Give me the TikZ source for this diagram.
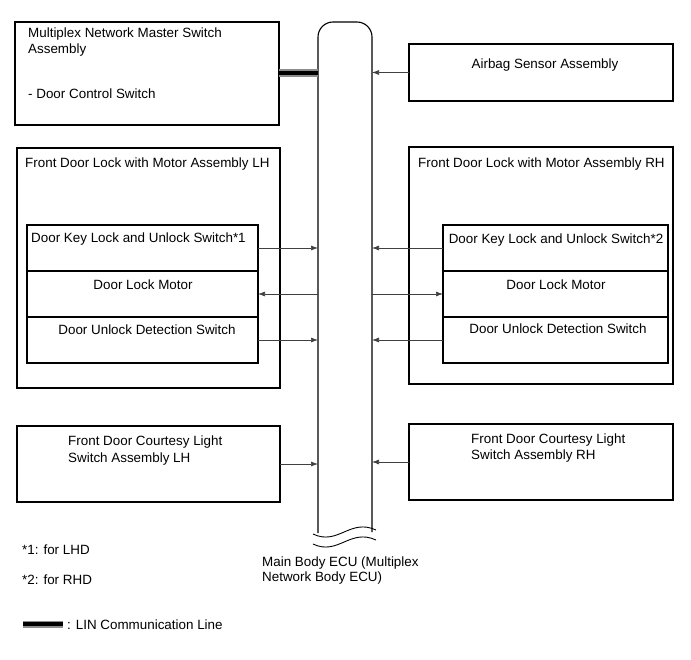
\documentclass[tikz,border=0pt]{standalone}
\usepackage{fontspec}
\setmainfont{Liberation Sans}
\usetikzlibrary{arrows.meta}

\begin{document}
\begin{tikzpicture}[x=1pt, y=-1pt,
	box/.style={rectangle, draw, line width=1.1pt, inner sep=0pt, outer sep=0pt},
	txt/.style={inner sep=0pt, anchor=base west, font=\fontsize{13.4}{17}\selectfont},
	ctxt/.style={txt, anchor=base},
	sig/.style={draw=black!75, line width=0.7pt, -{Latex[length=7pt, width=5pt]}},
	linout/.style={line width=8pt, black!45},
	linin/.style={line width=4pt, black}]
	
	\useasboundingbox (0,0) rectangle (691,660);
	
	%Main body ECU
	\node (ecu) at (345,277.5) [inner sep=0pt, outer sep=0pt, minimum width=54pt, minimum height=511pt]{};
	\draw[line width=1.1pt, rounded corners=15pt] (318,533) -- (318,22) -- (372,22) -- (372,532);
	\draw[line width=0.9pt] (313,534) .. controls (338,546) and (350,518) .. (376,530);
	\draw[line width=0.9pt] (313,544) .. controls (338,556) and (350,528) .. (376,540);
	\node (ecuName) at (262,566) [txt]{Main Body ECU (Multiplex};
	\node (ecuName2) at (262,581) [txt]{Network Body ECU)};
	
	%Master switch
	\node (master) at (147,73.5) [box, minimum width=264pt, minimum height=103pt]{};
	\node (masterName) at (28,38) [txt]{Multiplex Network Master Switch};
	\node (masterName2) at (28,54) [txt]{Assembly};
	\node (masterSub) at (28,99) [txt]{- Door Control Switch};
	\draw[linout] (master.east) -- (master.east -| ecu.west);
	\draw[linin] (master.east) -- (master.east -| ecu.west);
	
	%Airbag
	\node (airbag) at (541,72.5) [box, minimum width=264pt, minimum height=57pt]{};
	\node (airbagName) at (545,69) [ctxt]{Airbag Sensor Assembly};
	\draw[sig] (airbag.west) -- (airbag.west -| ecu.east);
	
	%Front door lock LH
	\node (lockL) at (148.5,268) [box, minimum width=263pt, minimum height=240pt]{};
	\node (lockLName) at (25,168) [txt]{Front Door Lock with Motor Assembly LH};
	\node (keyL) at (142.5,248) [box, minimum width=231pt, minimum height=46pt]{};
	\node (motorL) at (142.5,294) [box, minimum width=231pt, minimum height=46pt]{};
	\node (detL) at (142.5,340) [box, minimum width=231pt, minimum height=46pt]{};
	\node (keyLName) at (31,243) [txt]{Door Key Lock and Unlock Switch*1};
	\node (motorLName) at (143,290) [ctxt]{Door Lock Motor};
	\node (detLName) at (147,335) [ctxt]{Door Unlock Detection Switch};
	\draw[sig] (keyL.east) -- (keyL.east -| ecu.west);
	\draw[sig] (motorL.east -| ecu.west) -- (motorL.east);
	\draw[sig] (detL.east) -- (detL.east -| ecu.west);
	
	%Front door lock RH
	\node (lockR) at (541,265.5) [box, minimum width=264pt, minimum height=237pt]{};
	\node (lockRName) at (418,168) [txt]{Front Door Lock with Motor Assembly RH};
	\node (keyR) at (555.5,248) [box, minimum width=225pt, minimum height=46pt]{};
	\node (motorR) at (555.5,294) [box, minimum width=225pt, minimum height=46pt]{};
	\node (detR) at (555.5,340) [box, minimum width=225pt, minimum height=46pt]{};
	\node (keyRName) at (556,244) [ctxt]{Door Key Lock and Unlock Switch*2};
	\node (motorRName) at (556,290) [ctxt]{Door Lock Motor};
	\node (detRName) at (558,334) [ctxt]{Door Unlock Detection Switch};
	\draw[sig] (keyR.west) -- (keyR.west -| ecu.east);
	\draw[sig] (motorR.west -| ecu.east) -- (motorR.west);
	\draw[sig] (detR.west) -- (detR.west -| ecu.east);
	
	%Courtesy switches
	\node (courtL) at (148.5,464) [box, minimum width=263pt, minimum height=76pt]{};
	\node (courtLName) at (68,445) [txt]{Front Door Courtesy Light};
	\node (courtLName2) at (68,462) [txt]{Switch Assembly LH};
	\draw[sig] (courtL.east) -- (courtL.east -| ecu.west);
	\node (courtR) at (541,462) [box, minimum width=264pt, minimum height=76pt]{};
	\node (courtRName) at (471,443) [txt]{Front Door Courtesy Light};
	\node (courtRName2) at (471,459) [txt]{Switch Assembly RH};
	\draw[sig] (courtR.west) -- (courtR.west -| ecu.east);
	
	%Notes
	\node (noteOne) at (22,554) [txt]{*1: for LHD};
	\node (noteTwo) at (22,584) [txt]{*2: for RHD};
	\coordinate (legA) at (23,624);
	\coordinate (legB) at (63,624);
	\draw[linout, line width=7pt] (legA) -- (legB);
	\draw[linin] (legA) -- (legB);
	\node (legName) at (67,629) [txt]{: LIN Communication Line};
	
\end{tikzpicture}
\end{document}
